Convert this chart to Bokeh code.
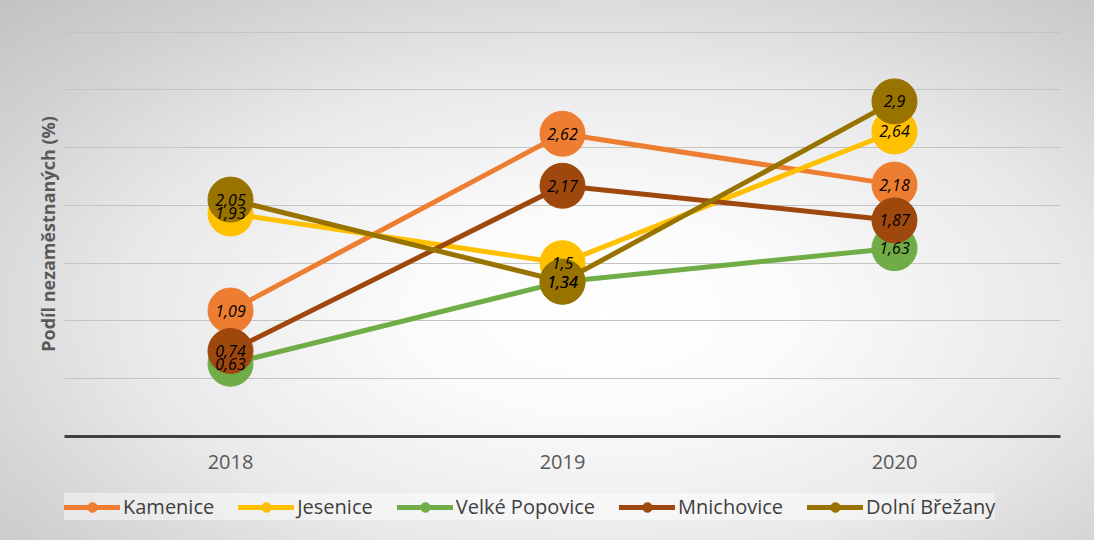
from bokeh.plotting import figure
from bokeh.layouts import column
from bokeh.models import FactorRange, Range1d, SingleIntervalTicker, FixedTicker, Legend, LegendItem
from bokeh.core.properties import value
from bokeh.embed import file_html
from bokeh.resources import INLINE

years = ["2018", "2019", "2020"]
names = ["Kamenice", "Jesenice", "Velké Popovice", "Mnichovice", "Dolní Břežany"]
kamenice = [1.09, 2.62, 2.18]
jesenice = [1.93, 1.50, 2.64]
velke_popovice = [0.63, 1.34, 1.63]
mnichovice = [0.74, 2.17, 1.87]
dolni_brezany = [2.05, 1.34, 2.90]
series = [kamenice, jesenice, velke_popovice, mnichovice, dolni_brezany]
colors = ["#ED7D31", "#FFC000", "#70AD47", "#9E480E", "#997300"]

FONT = "Open Sans"
GRADIENT = ("radial-gradient(ellipse farthest-corner at 55% 58%, "
            "#ffffff 0%, #fbfbfb 22%, #e9e9e9 55%, #d2d2d2 80%, #c2c2c2 100%)")

p = figure(
    width=1094, height=480,
    x_range=FactorRange(*years, range_padding=0),
    y_range=Range1d(0, 3.505),
    output_backend="svg", toolbar_location=None,
    min_border_left=64, min_border_right=34, min_border_top=31, min_border_bottom=44,
    background_fill_alpha=0, border_fill_alpha=0,
)
p.outline_line_color = None

# grid
p.xgrid.grid_line_color = None
p.ygrid.ticker = SingleIntervalTicker(interval=0.5)
p.ygrid.grid_line_color = "#c4c4c4"
p.ygrid.grid_line_width = 1.2

# x axis
xa = p.xaxis[0]
xa.axis_line_color = "#404040"
xa.axis_line_width = 3
xa.major_tick_line_color = None
xa.minor_tick_line_color = None
xa.major_label_text_font = FONT
xa.major_label_text_font_size = "20px"
xa.major_label_text_color = "#595959"
xa.major_label_standoff = 12

# y axis (label only)
ya = p.yaxis[0]
ya.ticker = FixedTicker(ticks=[])
ya.major_label_standoff = 0
ya.major_tick_line_color = None
ya.minor_tick_line_color = None
ya.axis_line_color = None
ya.axis_label = "Podíl nezaměstnaných (%)"
ya.axis_label_text_font = FONT
ya.axis_label_text_font_style = "bold"
ya.axis_label_text_font_size = "18px"
ya.axis_label_text_color = "#595959"
ya.axis_label_standoff = 5

for name, vals, col in zip(names, series, colors):
    p.line(years, vals, line_color=col, line_width=5, line_cap="round")
    p.scatter(years, vals, size=45, fill_color=col, line_color=col, line_width=1)

for vals in series:
    p.text(years, vals, text=[("%g" % v).replace(".", ",") for v in vals],
           text_align="center", text_baseline="middle",
           text_font=value(FONT), text_font_style="italic",
           text_font_size="16px", text_color="#000000")

# legend strip: a second figure whose (out-of-view) renderers feed the legend swatches
pl = figure(
    width=1094, height=60, title=None,
    x_range=FactorRange(*years, range_padding=0), y_range=Range1d(10, 11),
    output_backend="svg", toolbar_location=None,
    min_border_left=64, min_border_right=34, min_border_top=0, min_border_bottom=0,
    background_fill_alpha=0, border_fill_alpha=0,
)
pl.outline_line_color = None
pl.xaxis.visible = False
pl.yaxis.visible = False
pl.xgrid.grid_line_color = None
pl.ygrid.grid_line_color = None

items = []
for name, vals, col in zip(names, series, colors):
    lr = pl.line(years, vals, line_color=col, line_width=5, line_cap="round")
    sr = pl.scatter(years, vals, fill_color=col, line_color=col)
    items.append(LegendItem(label=name, renderers=[lr, sr]))

legend = Legend(items=items, orientation="horizontal", location=(0, 20))
legend.glyph_width = 56
legend.glyph_height = 24
legend.label_height = 24
legend.label_standoff = 3
legend.spacing = 24
legend.padding = 7
legend.margin = 0
legend.label_text_font = FONT
legend.label_text_font_size = "20px"
legend.label_text_color = "#404040"
legend.background_fill_color = "#ffffff"
legend.background_fill_alpha = 0.45
legend.border_line_color = None
pl.add_layout(legend, "center")

layout = column(p, pl, spacing=0, styles={"background": GRADIENT})

open("out.html", "w").write(file_html(layout, INLINE))
